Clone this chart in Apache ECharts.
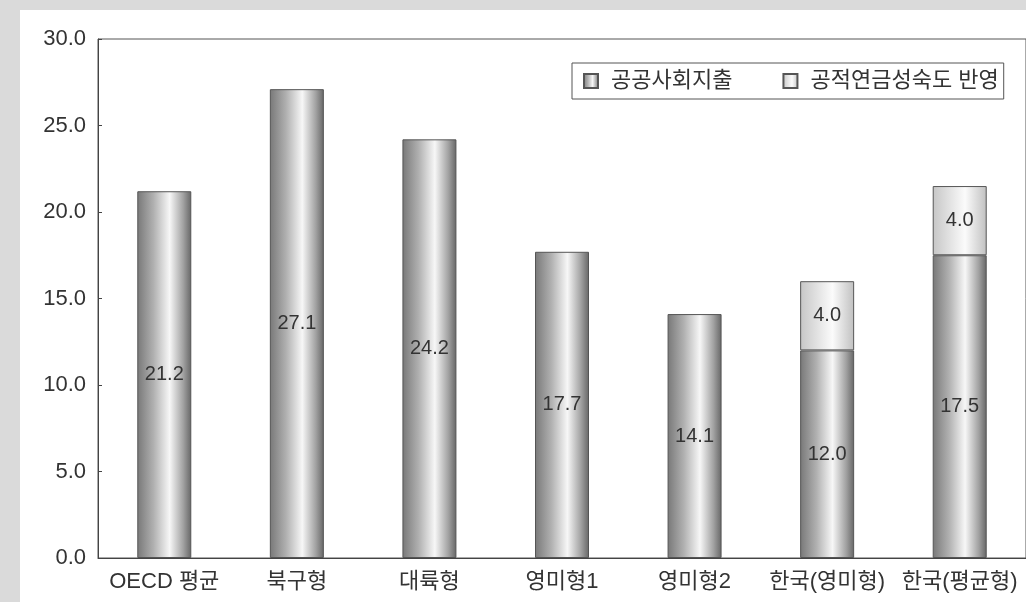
<!DOCTYPE html>
<html>
<head>
<meta charset="utf-8">
<script src="https://cdn.jsdelivr.net/npm/echarts@6/dist/echarts.min.js"></script>
<style>
html,body{margin:0;padding:0;background:#fff;}
#c{width:1026px;height:602px;}
</style>
</head>
<body>
<div id="c"></div>
<script>
const categories = ['OECD 평균','북구형','대륙형','영미형1','영미형2','한국(영미형)','한국(평균형)'];
const publicSpending = [21.2, 27.1, 24.2, 17.7, 14.1, 12.0, 17.5];
const pensionMaturity = ['-', '-', '-', '-', '-', 4.0, 4.0];
const seriesNames = ['공공사회지출', '공적연금성숙도 반영'];
const yTicks = { min: 0, max: 30, interval: 5 };

const FONT = '"Liberation Sans", "Noto Sans CJK KR", sans-serif';
const darkGrad = new echarts.graphic.LinearGradient(0,0,1,0,[
  {offset:0,color:'#787878'},{offset:0.3,color:'#b0b0b0'},{offset:0.6,color:'#f7f7f7'},{offset:0.85,color:'#a2a2a2'},{offset:1,color:'#666666'}]);
const lightGrad = new echarts.graphic.LinearGradient(0,0,1,0,[
  {offset:0,color:'#c6c6c6'},{offset:0.6,color:'#fbfbfb'},{offset:1,color:'#c0c0c0'}]);

const chart = echarts.init(document.getElementById('c'), null, {renderer:'canvas'});
chart.setOption({
  backgroundColor:'#fff',
  animation:false,
  textStyle:{fontFamily:FONT},
  graphic:[
    {type:'rect', shape:{x:0,y:0,width:1026,height:10}, style:{fill:'#dadada'}, silent:true},
    {type:'rect', shape:{x:0,y:0,width:20,height:602}, style:{fill:'#dadada'}, silent:true}
  ],
  grid:{left:98, top:39, width:930, height:519, show:true, borderColor:'#555', borderWidth:1, backgroundColor:'transparent'},
  legend:{
    left:572, top:63,
    padding:[7,5,7,11],
    borderColor:'#555', borderWidth:1,
    itemWidth:14, itemHeight:14, itemGap:50,
    icon:'rect',
    textStyle:{fontSize:22, color:'#333', fontFamily:FONT, padding:[0,0,0,8]},
    data:seriesNames
  },
  xAxis:{
    type:'category', data:categories,
    axisLine:{lineStyle:{color:'#444', width:1}},
    axisTick:{inside:true, length:5, lineStyle:{color:'#444'}},
    axisLabel:{fontSize:22, color:'#333', margin:13, interval:0, hideOverlap:false, fontFamily:FONT}
  },
  yAxis:{
    type:'value', min:yTicks.min, max:yTicks.max, interval:yTicks.interval,
    axisLine:{show:true, lineStyle:{color:'#444', width:1}},
    axisTick:{show:true, inside:true, length:4, lineStyle:{color:'#444'}},
    splitLine:{show:false},
    axisLabel:{fontSize:22, color:'#333', margin:12, formatter:v=>v.toFixed(1), fontFamily:FONT}
  },
  series:[
    {name:seriesNames[0], type:'bar', stack:'s', data:publicSpending, barWidth:54,
     itemStyle:{color:darkGrad, borderColor:'#555', borderWidth:1},
     label:{show:true, position:'inside', fontSize:20, color:'#333', formatter:p=>p.value.toFixed(1), fontFamily:FONT}},
    {name:seriesNames[1], type:'bar', stack:'s', data:pensionMaturity, barWidth:54,
     itemStyle:{color:lightGrad, borderColor:'#555', borderWidth:1},
     label:{show:true, position:'inside', fontSize:20, color:'#333', formatter:p=>(+p.value).toFixed(1), fontFamily:FONT}}
  ]
});
</script>
</body>
</html>
